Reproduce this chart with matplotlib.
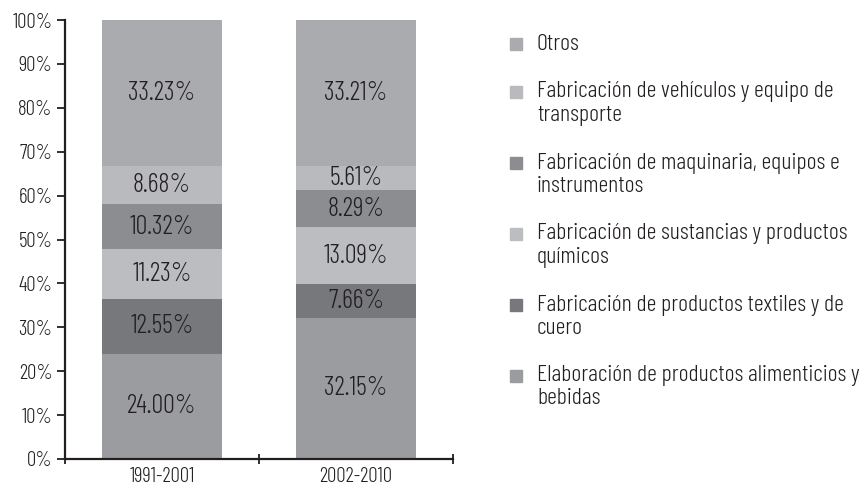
import matplotlib
matplotlib.use('Agg')
import matplotlib.pyplot as plt
from matplotlib.patches import Rectangle
from matplotlib.ticker import PercentFormatter

plt.rcParams['font.family'] = ['Barlow Condensed', 'DejaVu Sans']
plt.rcParams['font.weight'] = 300

# Periodos y sectores (de abajo hacia arriba)
periods = ['1991-2001', '2002-2010']
sectors = [
    'Elaboración de productos alimenticios y\nbebidas',
    'Fabricación de productos textiles y de\ncuero',
    'Fabricación de sustancias y productos\nquímicos',
    'Fabricación de maquinaria, equipos e\ninstrumentos',
    'Fabricación de vehículos y equipo de\ntransporte',
    'Otros',
]
shares_1991 = [24.00, 12.55, 11.23, 10.32, 8.68, 33.23]
shares_2002 = [32.15, 7.66, 13.09, 8.29, 5.61, 33.21]
colors = ['#9b9c9f', '#77787b', '#bcbdc0', '#8c8d90', '#b9babd', '#aaabae']
ink = '#231f20'

W, H = 866, 493
fig = plt.figure(figsize=(W / 100, H / 100), dpi=100)
ax = fig.add_axes([65 / W, 34 / H, 388 / W, 439 / H])

x = [0, 1]
bottoms = [0, 0]
for i, name in enumerate(sectors):
    vals = [shares_1991[i], shares_2002[i]]
    ax.bar(x, vals, width=0.62, bottom=bottoms, color=colors[i])
    for j in range(2):
        ax.text(x[j], bottoms[j] + vals[j] / 2, '%.2f%%' % vals[j],
                ha='center', va='center', fontsize=19, color=ink)
    bottoms = [bottoms[k] + vals[k] for k in range(2)]

ax.set_xlim(-0.5, 1.5)
ax.set_ylim(0, 100)
ax.set_yticks(range(0, 101, 10))
ax.yaxis.set_major_formatter(PercentFormatter(decimals=0))
ax.set_xticks([-0.5, 0.5, 1.5])
ax.set_xticklabels(['', '', ''])
ax.set_xticks(x, minor=True)
ax.set_xticklabels(periods, minor=True)
ax.tick_params(axis='x', which='minor', length=0, labelsize=15, pad=6, colors=ink)
ax.tick_params(axis='x', which='major', length=7, width=1.3, direction='inout', color=ink)
ax.tick_params(axis='y', length=6, width=1.3, labelsize=15, pad=3, direction='out', colors=ink)
for s in ['top', 'right']:
    ax.spines[s].set_visible(False)
for s in ['left', 'bottom']:
    ax.spines[s].set_linewidth(1.6)
    ax.spines[s].set_color(ink)

# Leyenda manual: el cuadro alineado con la primera línea de cada rótulo
line_h, gap = 23, 25
y = 44
for name, c in zip(sectors[::-1], colors[::-1]):
    lines = name.split('\n')
    fig.patches.append(Rectangle((510 / W, 1 - (y + 6) / H), 12 / W, 12 / H,
                                 transform=fig.transFigure, color=c))
    for k, ln in enumerate(lines):
        fig.text(537 / W, 1 - (y + k * line_h) / H, ln, fontsize=17.3,
                 va='center', ha='left', color=ink)
    y += len(lines) * line_h + gap

fig.savefig('out.png', dpi=100)
